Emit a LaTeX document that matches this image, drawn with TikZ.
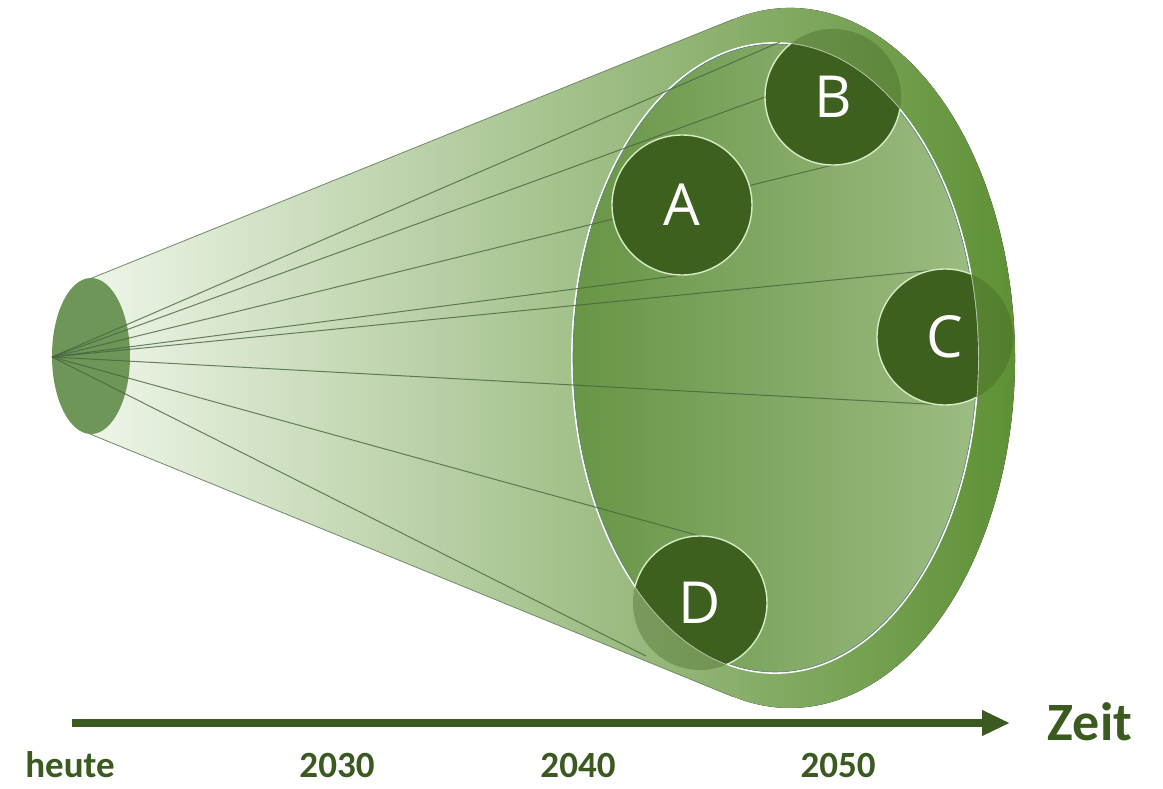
\documentclass[tikz,border=0pt]{standalone}
\usepackage{fontspec}
\setmainfont{Carlito}
\newfontfamily\bubblefont{Open Sans}
\usetikzlibrary{arrows.meta}

\definecolor{conepale}{RGB}{238,245,232}
\definecolor{conedeep}{RGB}{90,142,48}
\definecolor{diskleft}{RGB}{104,149,70}
\definecolor{diskright}{RGB}{156,188,130}
\definecolor{tubeend}{RGB}{110,150,88}
\definecolor{futuredark}{RGB}{62,96,30}
\definecolor{futurerim}{RGB}{214,236,196}
\definecolor{fanline}{RGB}{70,100,62}
\definecolor{edgeline}{RGB}{118,142,108}
\definecolor{diskedge}{RGB}{88,122,132}
\definecolor{axisgreen}{RGB}{58,90,32}

\begin{document}
\begin{tikzpicture}[x=1pt, y=-1pt,
    spot/.style={circle, minimum size=#1, inner sep=0pt, outer sep=0pt},
    fan/.style={draw=fanline, line width=1pt, opacity=0.8},
    bubble/.style={fill=futuredark, draw=futurerim, line width=1.4pt},
    ghost/.style={fill=futuredark, opacity=0.35},
    letter/.style={text=white, font=\bubblefont\fontsize{58}{58}\selectfont},
    year/.style={text=axisgreen, font=\bfseries\fontsize{37}{37}\selectfont, anchor=base},
    timeaxis/.style={draw=axisgreen, line width=8pt, -{Triangle[length=28pt, width=24pt]}}]
    \fill[white] (0,0) rectangle (1163,789);
    \useasboundingbox (0,0) rectangle (1163,789);

    % the four futures (only placed here)
    \node[spot=140pt] (A) at (682,205) {};
    \node[spot=136pt] (B) at (833,97) {};
    \node[spot=136pt] (C) at (945,337) {};
    \node[spot=134pt] (D) at (700,603) {};
    \coordinate (now) at (52,357);
    \coordinate (disktop) at (780,42);
    \coordinate (dfoot) at (646,656);

    % cone
    \fill[left color=conepale, right color=conedeep]
        (92,278) -- (733.5,19.2)
        arc[start angle=255.46, end angle=464.69, x radius=225, y radius=350]
        -- (90,434) -- cycle;
    \draw[edgeline, line width=0.8pt]
        (92,278) -- (733.5,19.2)
        (90,434) -- (732.9,696.6);
    \fill[tubeend] (91,356) ellipse[x radius=39, y radius=78];

    % far end
    \fill[left color=diskleft, right color=diskright]
        (775,358) ellipse[x radius=203, y radius=315];
    \draw[white, line width=1.8pt] (775,358) ellipse[x radius=203, y radius=315];
    \draw[diskedge, line width=0.6pt] (775,358) ellipse[x radius=202, y radius=314];

    % paths into the future
    \foreach \goal in {disktop, B.west, B.south, A.south, C.north, C.south, D.north, dfoot}
        \draw[fan] (now) -- (\goal);

    \foreach \f/\r in {A/70, B/68, C/68, D/67}
        \fill[ghost] (\f.center) circle[radius=\r];
    \begin{scope}
        \clip (775,358) ellipse[x radius=203, y radius=315];
        \foreach \f/\r in {A/70, B/68, C/68, D/67}
            \filldraw[bubble] (\f.center) circle[radius=\r];
    \end{scope}
    \node[letter] (Aname) at (A) {A};
    \node[letter] (Bname) at (B) {B};
    \node[letter] (Cname) at (C) {C};
    \node[letter] (Dname) at (D) {D};

    % time axis
    \coordinate (start) at (72,723);
    \coordinate (tip) at (1010,723);
    \draw[timeaxis] (start) -- (tip);
    \node[year, font=\bfseries\fontsize{54}{54}\selectfont] (zeit) at (1090,740) {Zeit};
    \node[year] (heute) at (70,777) {heute};
    \node[year] (y2030) at (337,777) {2030};
    \node[year] (y2040) at (578,777) {2040};
    \node[year] (y2050) at (838,777) {2050};
\end{tikzpicture}
\end{document}
